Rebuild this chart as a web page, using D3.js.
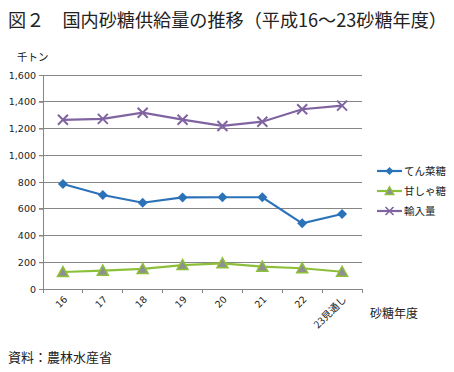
<!DOCTYPE html>
<html>
<head>
<meta charset="utf-8">
<script src="https://cdn.jsdelivr.net/npm/d3@7"></script>
<style>
  html, body { margin: 0; padding: 0; background: #fff; }
  svg { display: block; }
  .jp { font-family: "Noto Sans CJK JP", "Noto Sans", sans-serif; fill: #222; }
  .num { font-family: "DejaVu Sans", Verdana, sans-serif; fill: #222; }
</style>
</head>
<body>
<div id="chart"></div>
<script>
// sugar supply in Japan, thousand tonnes, by sugar year (Heisei)
const YEARS = ["16", "17", "18", "19", "20", "21", "22", "23見通し"];
const BEET = [785, 703, 645, 685, 686, 686, 491, 561];     // てん菜糖
const CANE = [127, 137, 150, 179, 192, 167, 155, 129];     // 甘しゃ糖
const IMPORT = [1265, 1272, 1318, 1266, 1219, 1251, 1344, 1371]; // 輸入量
const Y_TICKS = [0, 200, 400, 600, 800, 1000, 1200, 1400, 1600];

const SERIES = [
  { key: "beet", label: "てん菜糖", values: BEET, color: "#2C72B8", marker: "diamond" },
  { key: "cane", label: "甘しゃ糖", values: CANE, color: "#8DC03A", marker: "triangle" },
  { key: "import", label: "輸入量", values: IMPORT, color: "#8064A2", marker: "cross" },
];

const W = 454, H = 372;
const svg = d3.select("#chart").append("svg").attr("width", W).attr("height", H);

const x = d3.scaleBand().domain(YEARS).range([43, 362]).padding(0);
const y = d3.scaleLinear().domain([0, 1600]).range([289, 75]);
const cx = d => x(d) + x.bandwidth() / 2;

// title
svg.append("text").attr("class", "jp").attr("x", 8).attr("y", 27)
  .attr("font-size", 18).attr("textLength", 439).attr("lengthAdjust", "spacingAndGlyphs")
  .text("図２　国内砂糖供給量の推移（平成16～23砂糖年度）");

svg.append("text").attr("class", "jp").attr("x", 17).attr("y", 61).attr("font-size", 10.5)
  .text("千トン");

// gridlines
svg.append("g").selectAll("line").data(Y_TICKS.filter(t => t > 0)).join("line")
  .attr("x1", 39).attr("x2", 362).attr("y1", d => y(d)).attr("y2", d => y(d))
  .attr("stroke", "#868686").attr("stroke-width", 1).attr("shape-rendering", "crispEdges");

// y axis
const gy = svg.append("g").attr("transform", "translate(43,0)")
  .call(d3.axisLeft(y).tickValues(Y_TICKS).tickFormat(d3.format(",")).tickSize(4).tickSizeOuter(0).tickPadding(3));
gy.select(".domain").attr("stroke", "#868686");
gy.selectAll(".tick line").attr("stroke", "#868686");
gy.selectAll("text").attr("class", "num").attr("font-size", 9.5).attr("fill", "#222");

// x axis
const gx = svg.append("g").attr("transform", "translate(0,289)");
gx.append("line").attr("x1", 43).attr("x2", 362).attr("stroke", "#868686").attr("shape-rendering", "crispEdges");
gx.selectAll("line.tk").data(d3.range(YEARS.length + 1)).join("line").attr("class", "tk")
  .attr("x1", i => i < YEARS.length ? x(YEARS[i]) : x.range()[1])
  .attr("x2", i => i < YEARS.length ? x(YEARS[i]) : x.range()[1])
  .attr("y1", 0).attr("y2", 4).attr("stroke", "#868686").attr("shape-rendering", "crispEdges");
gx.selectAll("text").data(YEARS).join("text")
  .attr("class", d => d.length > 2 ? "jp" : "num")
  .attr("font-size", d => d.length > 2 ? 10 : 9.5)
  .attr("text-anchor", "end")
  .attr("transform", d => `translate(${cx(d) + 5},${11}) rotate(-45)`)
  .text(d => d);

svg.append("text").attr("class", "jp").attr("x", 370).attr("y", 318).attr("font-size", 12)
  .text("砂糖年度");

// markers
function marker(g, type, color) {
  if (type === "diamond") {
    g.append("path").attr("d", "M0,-5L5,0L0,5L-5,0Z").attr("fill", color);
  } else if (type === "triangle") {
    g.append("path").attr("d", "M0,-5.5L5.5,4.5L-5.5,4.5Z").attr("fill", "#8F8F8F")
      .attr("stroke", color).attr("stroke-width", 1.5);
  } else {
    g.append("path").attr("d", "M-5,-5L5,5M-5,5L5,-5").attr("stroke", color).attr("stroke-width", 2).attr("fill", "none");
  }
}

const line = d3.line().x((v, i) => cx(YEARS[i])).y(v => y(v));
SERIES.forEach(s => {
  svg.append("path").datum(s.values).attr("d", line)
    .attr("fill", "none").attr("stroke", s.color).attr("stroke-width", 2.2);
  s.values.forEach((v, i) => {
    const g = svg.append("g").attr("transform", `translate(${cx(YEARS[i])},${y(v)})`);
    marker(g, s.marker, s.color);
  });
});

// legend
const lg = svg.append("g").selectAll("g").data(SERIES).join("g")
  .attr("transform", (d, i) => `translate(377,${171 + i * 20})`);
lg.each(function (d) {
  const g = d3.select(this);
  g.append("line").attr("x1", 0).attr("x2", 25).attr("stroke", d.color).attr("stroke-width", 2.2);
  marker(g.append("g").attr("transform", "translate(12.5,0) scale(0.8)"), d.marker, d.color);
  g.append("text").attr("class", "jp").attr("x", 27).attr("y", 4).attr("font-size", 10.5).text(d.label);
});

svg.append("text").attr("class", "jp").attr("x", 8).attr("y", 362).attr("font-size", 13)
  .text("資料：農林水産省");
</script>
</body>
</html>
